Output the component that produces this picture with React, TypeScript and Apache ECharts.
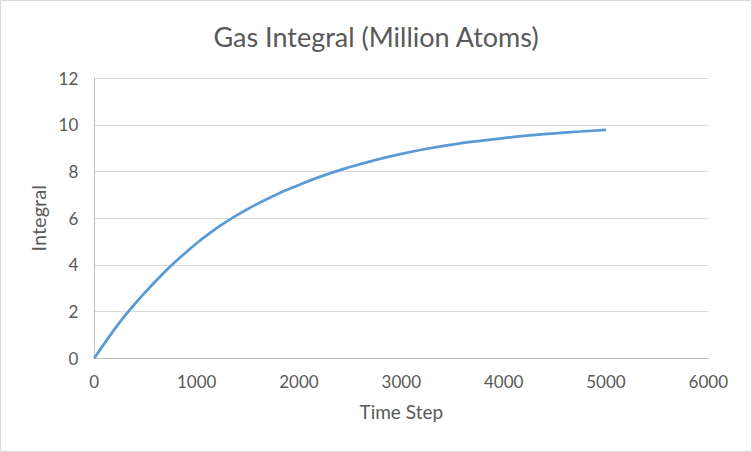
import React, { useEffect, useRef } from "react";
import * as echarts from "echarts";

const timeSteps = [0, 125, 250, 375, 500, 625, 750, 875, 1000, 1125, 1250, 1375, 1500, 1750, 2000, 2250, 2500, 2750, 3000, 3250, 3500, 3750, 4000, 4250, 4500, 4750, 5000];
const integralValues = [0, 0.8, 1.55, 2.22, 2.84, 3.42, 3.97, 4.46, 4.93, 5.35, 5.74, 6.08, 6.4, 6.96, 7.43, 7.85, 8.2, 8.5, 8.76, 8.98, 9.16, 9.31, 9.44, 9.55, 9.64, 9.72, 9.79];

const chartTitle = "Gas Integral (Million Atoms)";
const xAxisTitle = "Time Step";
const yAxisTitle = "Integral";

const FONT = "Lato, 'Open Sans', sans-serif";
const TEXT = "#595959";

export default function App() {
  const ref = useRef<HTMLDivElement>(null);
  useEffect(() => {
    if (!ref.current) return;
    const chart = echarts.init(ref.current, null, { renderer: "svg" });
    const data = timeSteps.map((t, i) => [t, integralValues[i]]);
    chart.setOption({
      animation: false,
      backgroundColor: "#ffffff",
      title: {
        text: chartTitle,
        left: "center",
        top: 18,
        textStyle: { fontFamily: FONT, fontSize: 27, fontWeight: "normal", color: TEXT },
      },
      graphic: [
        {
          type: "rect",
          shape: { x: 0.5, y: 0.5, width: 751, height: 451 },
          style: { fill: "none", stroke: "#d9d9d9", lineWidth: 1 },
          silent: true,
        },
      ],
      grid: { left: 94.3, right: 43.7, top: 78.3, bottom: 93.7 },
      xAxis: {
        type: "value",
        min: 0,
        max: 6000,
        interval: 1000,
        name: xAxisTitle,
        nameLocation: "middle",
        nameGap: 44,
        nameTextStyle: { fontFamily: FONT, fontSize: 19, color: TEXT },
        axisLine: { show: true, lineStyle: { color: "#bfbfbf", width: 1 } },
        axisTick: { show: false },
        axisLabel: { fontFamily: FONT, fontSize: 17, color: TEXT, margin: 15, formatter: (v: number) => String(v) },
        splitLine: { show: false },
      },
      yAxis: {
        type: "value",
        min: 0,
        max: 12,
        interval: 2,
        name: yAxisTitle,
        nameLocation: "middle",
        nameGap: 41,
        nameRotate: 90,
        nameTextStyle: { fontFamily: FONT, fontSize: 20, color: TEXT },
        axisLine: { show: true, lineStyle: { color: "#bfbfbf", width: 1 } },
        axisTick: { show: false },
        axisLabel: { fontFamily: FONT, fontSize: 17, color: TEXT, margin: 16 },
        splitLine: { show: true, lineStyle: { color: "#d9d9d9", width: 1 } },
      },
      series: [
        {
          type: "line",
          data,
          smooth: 0.5,
          showSymbol: false,
          lineStyle: { color: "#5b9bd5", width: 2.75 },
          itemStyle: { color: "#5b9bd5" },
        },
      ],
    });
    return () => chart.dispose();
  }, []);
  return (
    <div
      ref={ref}
      style={{ position: "fixed", left: 0, top: 0, width: 752, height: 452 }}
    />
  );
}
